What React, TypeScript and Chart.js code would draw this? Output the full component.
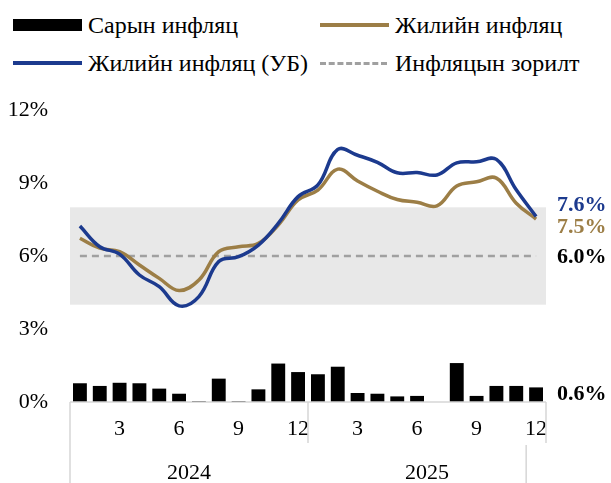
import React, { useEffect, useRef } from "react";
import { Chart, registerables } from "chart.js";

Chart.register(...registerables);

const MONTHS = [1, 2, 3, 4, 5, 6, 7, 8, 9, 10, 11, 12, 1, 2, 3, 4, 5, 6, 7, 8, 9, 10, 11, 12];
const YEARS = ["2024", "2025"];
const SHOWN_MONTHS = [3, 6, 9, 12];
const Y_TICKS_MAX = 12;
const Y_STEP = 3;

const MONTHLY = [0.77, 0.66, 0.79, 0.77, 0.55, 0.34, 0.04, 0.96, 0.04, 0.52, 1.58, 1.23, 1.14, 1.45, 0.37, 0.34, 0.23, 0.25, -0.1, 1.6, 0.25, 0.66, 0.66, 0.6];
const ANNUAL = [6.73, 6.32, 6.18, 5.63, 5.08, 4.58, 5.01, 6.18, 6.38, 6.52, 7.27, 8.3, 8.71, 9.57, 9.08, 8.66, 8.32, 8.21, 8.06, 8.88, 9.05, 9.2, 8.17, 7.52];
const ANNUAL_UB = [7.23, 6.38, 6.08, 5.22, 4.74, 3.95, 4.33, 5.77, 5.97, 6.45, 7.34, 8.44, 8.92, 10.38, 10.14, 9.85, 9.42, 9.43, 9.33, 9.83, 9.87, 9.97, 8.72, 7.62];
const TARGET = 6.0;
const BAND_LOW = 4;
const BAND_HIGH = 8;

const LABELS_TEXT = {
  monthly: "Сарын инфляц",
  annual: "Жилийн инфляц",
  annualUB: "Жилийн инфляц (УБ)",
  target: "Инфляцын зорилт",
};

const BLUE = "#1c3a8e";
const GOLD = "#9c7e46";
const GRAYDASH = "#a0a0a0";
const FONT = "'Liberation Serif', 'Times New Roman', serif";

const bandPlugin = {
  id: "band",
  beforeDatasetsDraw(chart: any) {
    const { ctx, chartArea, scales } = chart;
    const y = scales.y;
    const top = y.getPixelForValue(BAND_HIGH);
    const bot = y.getPixelForValue(BAND_LOW);
    ctx.save();
    ctx.fillStyle = "#e8e8e8";
    ctx.fillRect(chartArea.left, top, chartArea.right - chartArea.left, bot - top);
    ctx.restore();
  },
};

const axisPlugin = {
  id: "axisDeco",
  afterDraw(chart: any) {
    const { ctx, chartArea, scales, height } = chart;
    const x = scales.x;
    const b = chartArea.bottom;
    ctx.save();
    ctx.strokeStyle = "#d6d6d6";
    ctx.lineWidth = 1.5;
    const line = (x1: number, y1: number, x2: number, y2: number) => {
      ctx.beginPath();
      ctx.moveTo(x1, y1);
      ctx.lineTo(x2, y2);
      ctx.stroke();
    };
    line(chartArea.left, b, chartArea.right, b);
    const mid = (x.getPixelForValue(11) + x.getPixelForValue(12)) / 2;
    const late = (x.getPixelForValue(22) + x.getPixelForValue(23)) / 2;
    line(chartArea.left, b, chartArea.left, height);
    line(mid, b, mid, b + 41);
    line(chartArea.right, b, chartArea.right, b + 41);
    line(late, b + 43, late, height);
    ctx.fillStyle = "#000";
    ctx.font = `22px ${FONT}`;
    ctx.textAlign = "center";
    ctx.textBaseline = "middle";
    ctx.fillText(YEARS[0], (chartArea.left + mid) / 2, b + 71);
    ctx.fillText(YEARS[1], (mid + chartArea.right) / 2, b + 71);
    ctx.restore();
  },
};

const endLabelPlugin = {
  id: "endLabels",
  afterDatasetsDraw(chart: any) {
    const { ctx, chartArea, scales } = chart;
    const y = scales.y;
    const n = MONTHS.length - 1;
    const xl = chartArea.right + 11;
    ctx.save();
    ctx.font = `bold 22px ${FONT}`;
    ctx.textAlign = "left";
    ctx.textBaseline = "middle";
    const put = (val: number, color: string, dy: number, atMid = false) => {
      const py = atMid ? y.getPixelForValue(val / 2) : y.getPixelForValue(val);
      ctx.fillStyle = color;
      ctx.fillText(val.toFixed(1) + "%", xl, py + dy);
    };
    put(ANNUAL_UB[n], BLUE, -11);
    put(ANNUAL[n], GOLD, 8);
    put(TARGET, "#000", 1);
    put(MONTHLY[n], "#000", 0, true);
    ctx.restore();
  },
};

function LegendItem({ left, top, kind, color, text }: any) {
  let sw: any;
  if (kind === "box") {
    sw = <div style={{ width: 69, height: 12, background: color }} />;
  } else if (kind === "dash") {
    sw = <div style={{ width: 67, height: 0, borderTop: `3px dashed ${color}` }} />;
  } else {
    sw = <div style={{ width: 69, height: 4, background: color }} />;
  }
  return (
    <div style={{ position: "absolute", left, top, height: 30, display: "flex", alignItems: "center" }}>
      <div style={{ width: 69, display: "flex", alignItems: "center" }}>{sw}</div>
      <span style={{ marginLeft: 6, fontFamily: FONT, fontSize: 24, color: "#000", whiteSpace: "nowrap" }}>{text}</span>
    </div>
  );
}

export default function App() {
  const ref = useRef<HTMLCanvasElement>(null);
  useEffect(() => {
    if (!ref.current) return;
    const chart = new Chart(ref.current, {
      type: "bar",
      data: {
        labels: MONTHS.map(String),
        datasets: [
          {
            type: "line",
            label: LABELS_TEXT.annualUB,
            data: ANNUAL_UB,
            borderColor: BLUE,
            borderWidth: 3.5,
            pointRadius: 0,
            tension: 0.4,
            fill: false,
            order: 0,
          },
          {
            type: "line",
            label: LABELS_TEXT.annual,
            data: ANNUAL,
            borderColor: GOLD,
            borderWidth: 3.5,
            pointRadius: 0,
            tension: 0.4,
            fill: false,
            order: 1,
          },
          {
            type: "line",
            label: LABELS_TEXT.target,
            data: MONTHS.map(() => TARGET),
            borderColor: GRAYDASH,
            borderWidth: 2.5,
            borderDash: [7, 5],
            pointRadius: 0,
            tension: 0,
            fill: false,
            order: 2,
          },
          {
            type: "bar",
            label: LABELS_TEXT.monthly,
            data: MONTHLY,
            backgroundColor: "#000",
            barPercentage: 0.7,
            categoryPercentage: 1,
            order: 3,
          },
        ],
      },
      options: {
        responsive: false,
        animation: false,
        devicePixelRatio: 1,
        layout: { padding: { top: 110, right: 65, left: 0, bottom: 0 } },
        plugins: { legend: { display: false }, tooltip: { enabled: false } },
        scales: {
          x: {
            grid: { display: false, drawTicks: false },
            border: { display: false },
            ticks: {
              autoSkip: false,
              maxRotation: 0,
              padding: 14,
              color: "#000",
              font: { family: FONT, size: 22 },
              callback: (_v: any, i: number) => (SHOWN_MONTHS.includes(MONTHS[i]) ? String(MONTHS[i]) : ""),
            },
            afterFit: (s: any) => {
              s.height = 81;
            },
          },
          y: {
            min: 0,
            max: Y_TICKS_MAX,
            grid: { display: false, drawTicks: false },
            border: { display: false },
            ticks: {
              stepSize: Y_STEP,
              padding: 22,
              color: "#000",
              font: { family: FONT, size: 22 },
              callback: (v: any) => v + "%",
            },
            afterFit: (s: any) => {
              s.width = 70;
            },
          },
        },
      },
      plugins: [bandPlugin, axisPlugin, endLabelPlugin],
    });
    return () => chart.destroy();
  }, []);

  return (
    <div style={{ position: "absolute", left: 0, top: 0, width: 611, height: 483, background: "#fff" }}>
      <LegendItem left={13} top={10} kind="box" color="#000" text={LABELS_TEXT.monthly} />
      <LegendItem left={320} top={10} kind="line" color={GOLD} text={LABELS_TEXT.annual} />
      <LegendItem left={13} top={48} kind="line" color={BLUE} text={LABELS_TEXT.annualUB} />
      <LegendItem left={320} top={48} kind="dash" color={GRAYDASH} text={LABELS_TEXT.target} />
      <canvas ref={ref} width={611} height={483} style={{ position: "absolute", left: 0, top: 0 }} />
    </div>
  );
}
